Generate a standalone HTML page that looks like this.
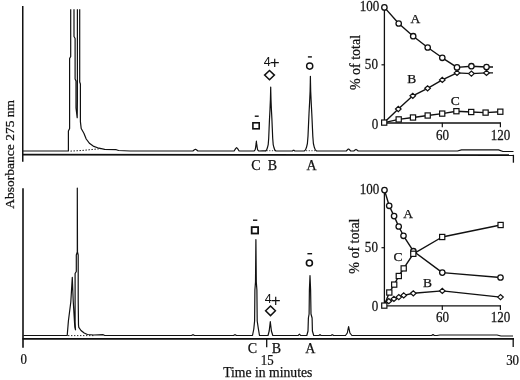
<!DOCTYPE html>
<html><head><meta charset="utf-8"><title>Figure</title>
<style>
html,body{margin:0;padding:0;background:#fff;}
svg{display:block;}
.s{font-family:"Liberation Serif","Times New Roman",serif;fill:#111;stroke:#111;stroke-width:0.25;}
.h{font-family:"Liberation Sans",Arial,sans-serif;fill:#111;}
</style></head><body>
<svg width="520" height="380" viewBox="0 0 520 380">
<rect x="0" y="0" width="520" height="380" fill="#fff"/>
<line x1="22.75" y1="6" x2="22.75" y2="161.7" stroke="#111" stroke-width="1.5" />
<line x1="22" y1="154.6" x2="514" y2="155.1" stroke="#111" stroke-width="1.8" />
<line x1="513.4" y1="154.8" x2="513.4" y2="162.7" stroke="#111" stroke-width="1.3" />
<line x1="23.0" y1="188.2" x2="23.0" y2="347.7" stroke="#111" stroke-width="1.6" />
<line x1="22.5" y1="338.9" x2="514" y2="338.9" stroke="#111" stroke-width="1.9" />
<line x1="513.2" y1="338.9" x2="513.2" y2="347" stroke="#111" stroke-width="1.3" />
<line x1="266.7" y1="338.9" x2="266.7" y2="347.3" stroke="#111" stroke-width="1.3" />
<polyline points="23.0,151.0 68.4,151.0 68.4,131.0 69.6,128.5 69.6,58.5 70.7,56.5 70.7,9.3" fill="none" stroke="#111" stroke-width="1.2" stroke-linejoin="round" />
<polyline points="74.0,9.3 74.0,36.5 75.1,38.5 75.1,79.0 76.0,81.0 76.0,108.0 77.2,117.7 77.4,100.0 77.4,9.3" fill="none" stroke="#111" stroke-width="1.2" stroke-linejoin="round" />
<polyline points="79.7,9.3 79.7,82.0 80.4,84.0 80.4,121.6 81.2,128.5 83.9,133.2 86.2,139.0 89.7,143.6 93.2,146.1 98.9,148.2 104.7,149.4 116.3,149.7 118.6,150.5 130.0,151.0 192.9,151.0 194.4,149.8 195.4,149.3 196.4,149.8 197.9,151.0 234.1,151.0 235.6,148.7 236.6,147.7 237.6,148.7 239.1,151.0 253.6,151.0 254.2,150.9 254.6,150.5 255.0,150.0 255.3,149.0 255.6,147.6 255.8,146.1 256.0,144.6 256.2,143.2 256.3,142.0 256.4,141.2 256.5,142.0 256.5,143.2 256.8,144.6 257.0,146.1 257.2,147.6 257.5,149.0 257.8,150.0 258.1,150.5 258.6,150.9 259.1,151.0 266.0,150.7 265.5,151.0 266.6,150.0 267.4,147.8 268.2,144.6 268.7,138.2 269.1,128.6 269.5,119.0 270.0,109.4 270.4,99.8 270.6,92.1 270.7,87.0 270.8,92.1 271.0,99.8 271.4,109.4 271.9,119.0 272.3,128.6 272.7,138.2 273.2,144.6 274.0,147.8 274.8,150.0 275.9,151.0 292.4,151.0 293.1,150.4 293.6,150.2 294.1,150.4 294.8,151.0 304.2,151.0 305.5,149.9 306.5,147.3 307.4,143.5 308.0,136.1 308.5,124.9 309.0,113.7 309.6,102.4 310.1,91.2 310.3,82.3 310.4,76.3 310.5,82.3 310.7,91.2 311.2,102.4 311.8,113.7 312.3,124.9 312.8,136.1 313.4,143.5 314.3,147.3 315.3,149.9 316.6,151.0 346.3,151.0 347.6,149.6 348.5,149.0 349.4,149.6 350.7,151.0 353.8,151.0 355.1,149.9 356.0,149.4 356.9,149.9 358.2,151.0 457.5,151.0 461.5,149.9 498.5,149.9 503.0,151.5 513.5,151.5" fill="none" stroke="#111" stroke-width="1.2" stroke-linejoin="round" />
<polyline points="23.5,335.5 67.2,335.5 68.4,321.0 70.8,302.0 72.3,277.4 73.2,300.5 74.8,327.0 75.5,329.8 75.1,322.0 75.1,273.5 76.3,271.5 76.3,255.0 77.3,252.0 77.3,188.0 77.5,252.0 78.2,255.0 78.2,300.0 78.5,325.0 78.8,327.4 81.0,330.5 84.2,333.0 87.4,334.5 93.7,335.0 103.2,334.7 104.8,335.5 191.5,335.5 192.4,334.9 193.0,334.7 193.6,334.9 194.5,335.5 233.5,335.5 234.4,334.9 235.0,334.7 235.6,334.9 236.5,335.5 252.5,335.5 253.8,329.0 254.6,321.0 254.9,290.0 255.5,282.0 255.9,239.5 256.3,282.0 256.9,290.0 257.2,321.0 258.4,329.0 259.5,335.5 268.0,335.5 269.2,331.0 270.3,321.7 271.4,331.0 272.8,335.5 298.2,335.5 298.9,334.6 299.4,334.2 299.9,334.6 300.6,335.5 306.8,335.5 308.0,331.0 308.4,318.0 309.1,314.0 309.4,290.0 310.0,275.5 310.6,290.0 311.0,314.0 312.1,318.0 312.4,331.0 313.7,335.5 319.0,335.5 319.6,334.9 320.0,334.7 320.4,334.9 321.0,335.5 331.1,335.5 331.8,334.9 332.3,334.7 332.8,334.9 333.5,335.5 345.5,335.5 347.3,333.0 348.6,326.5 349.9,333.0 351.9,335.5 431.5,335.5 432.4,334.9 433.0,334.6 433.6,334.9 434.5,335.5 437.0,335.5 440.0,335.0 497.0,335.0 501.0,336.0 513.0,336.0" fill="none" stroke="#111" stroke-width="1.2" stroke-linejoin="round" />
<polyline points="70.5,151.1 81.6,150.5 93.2,149.4 101.3,148.6" fill="none" stroke="#111" stroke-width="1.0" stroke-linejoin="round" stroke-dasharray="1.4 1.6"/>
<polyline points="266.5,150.7 275.0,150.7" fill="none" stroke="#111" stroke-width="0.8" stroke-linejoin="round" stroke-dasharray="1.2 1.5"/>
<polyline points="306.0,150.7 315.0,150.7" fill="none" stroke="#111" stroke-width="0.8" stroke-linejoin="round" stroke-dasharray="1.2 1.5"/>
<polyline points="68.0,335.6 95.0,335.6" fill="none" stroke="#111" stroke-width="0.9" stroke-linejoin="round" stroke-dasharray="1.4 1.6"/>
<rect x="252.9" y="122.8" width="6.3" height="6.0" fill="none" stroke="#111" stroke-width="1.6"/>
<line x1="254.8" y1="116.2" x2="258.7" y2="116.2" stroke="#111" stroke-width="1.4" />
<polygon points="264.6,75.1 269.5,70.5 274.4,75.1 269.5,79.7" fill="none" stroke="#111" stroke-width="1.5"/>
<circle cx="309.7" cy="66.1" r="3.1" fill="none" stroke="#111" stroke-width="1.4"/>
<line x1="307.9" y1="56.9" x2="311.9" y2="56.9" stroke="#111" stroke-width="1.4" />
<text class="h" x="263.8" y="65.6" text-anchor="start" font-size="12.5" >4</text>
<text class="h" x="269.7" y="67.8" text-anchor="start" font-size="17" >+</text>
<rect x="251.7" y="227.1" width="6.4" height="6.4" fill="none" stroke="#111" stroke-width="1.8"/>
<line x1="253.0" y1="220.2" x2="257.3" y2="220.2" stroke="#111" stroke-width="1.4" />
<polygon points="265.6,310.8 270.5,306.0 275.4,310.8 270.5,315.6" fill="none" stroke="#111" stroke-width="1.5"/>
<circle cx="309.4" cy="263" r="3.0" fill="none" stroke="#111" stroke-width="1.6"/>
<line x1="307.4" y1="253.7" x2="312.1" y2="253.7" stroke="#111" stroke-width="1.4" />
<text class="h" x="264.8" y="303.4" text-anchor="start" font-size="12.5" >4</text>
<text class="h" x="270.7" y="305.6" text-anchor="start" font-size="17" >+</text>
<text class="s" x="255.8" y="169.6" text-anchor="middle" font-size="14" >C</text>
<text class="s" x="272.5" y="169.6" text-anchor="middle" font-size="14" >B</text>
<text class="s" x="311.6" y="169.6" text-anchor="middle" font-size="14" >A</text>
<text class="s" x="252.5" y="353.1" text-anchor="middle" font-size="14" >C</text>
<text class="s" x="276.4" y="353.1" text-anchor="middle" font-size="14" >B</text>
<text class="s" x="310.4" y="353.1" text-anchor="middle" font-size="14" >A</text>
<text class="s" transform="translate(23.6,363.8) scale(0.9,1)" text-anchor="middle" font-size="14.3" >0</text>
<text class="s" transform="translate(267.2,364.5) scale(0.9,1)" text-anchor="middle" font-size="14.3" >15</text>
<text class="s" transform="translate(512.6,364.8) scale(0.9,1)" text-anchor="middle" font-size="14.3" >30</text>
<text class="s" x="267.8" y="377.3" text-anchor="middle" font-size="13.7" >Time in minutes</text>
<text class="s" font-size="13.5" text-anchor="middle" transform="translate(14.0,154.3) rotate(-90)">Absorbance 275 nm</text>
<line x1="384.4" y1="7.4" x2="384.4" y2="122.7" stroke="#111" stroke-width="1.3" />
<line x1="381.5" y1="7.4" x2="384.4" y2="7.4" stroke="#111" stroke-width="1.2" />
<line x1="381.5" y1="64.8" x2="384.4" y2="64.8" stroke="#111" stroke-width="1.2" />
<line x1="383.79999999999995" y1="123.0" x2="501.0" y2="123.0" stroke="#111" stroke-width="1.3" />
<line x1="442.3" y1="122.7" x2="442.3" y2="127.2" stroke="#111" stroke-width="1.2" />
<line x1="500.4" y1="122.7" x2="500.4" y2="127.2" stroke="#111" stroke-width="1.2" />
<text class="s" transform="translate(379.3,11.4) scale(0.87,1)" text-anchor="end" font-size="15" >100</text>
<text class="s" transform="translate(377.9,69.0) scale(0.87,1)" text-anchor="end" font-size="15" >50</text>
<text class="s" transform="translate(378.4,128.5) scale(0.87,1)" text-anchor="end" font-size="15" >0</text>
<text class="s" transform="translate(442.4,139.5) scale(0.87,1)" text-anchor="middle" font-size="15" >60</text>
<text class="s" transform="translate(500.6,139.5) scale(0.87,1)" text-anchor="middle" font-size="15" >120</text>
<text class="s" font-size="14" text-anchor="middle" transform="translate(360.3,62.5) rotate(-90)">% of total</text>
<line x1="384.4" y1="190.1" x2="384.4" y2="305.6" stroke="#111" stroke-width="1.3" />
<line x1="381.5" y1="190.1" x2="384.4" y2="190.1" stroke="#111" stroke-width="1.2" />
<line x1="381.5" y1="247.7" x2="384.4" y2="247.7" stroke="#111" stroke-width="1.2" />
<line x1="383.79999999999995" y1="305.90000000000003" x2="501.0" y2="305.90000000000003" stroke="#111" stroke-width="1.3" />
<line x1="442.3" y1="305.6" x2="442.3" y2="310.1" stroke="#111" stroke-width="1.2" />
<line x1="500.4" y1="305.6" x2="500.4" y2="310.1" stroke="#111" stroke-width="1.2" />
<text class="s" transform="translate(379.3,194.1) scale(0.87,1)" text-anchor="end" font-size="15" >100</text>
<text class="s" transform="translate(377.9,251.89999999999998) scale(0.87,1)" text-anchor="end" font-size="15" >50</text>
<text class="s" transform="translate(378.4,311.40000000000003) scale(0.87,1)" text-anchor="end" font-size="15" >0</text>
<text class="s" transform="translate(442.4,322.40000000000003) scale(0.87,1)" text-anchor="middle" font-size="15" >60</text>
<text class="s" transform="translate(500.6,322.40000000000003) scale(0.87,1)" text-anchor="middle" font-size="15" >120</text>
<text class="s" font-size="14" text-anchor="middle" transform="translate(359.2,246.1) rotate(-90)">% of total</text>
<polyline points="384.4,7.4 398.7,23.5 413.2,36.2 427.7,47.5 442.3,57.8 457.0,67.4 471.4,66.2 486.5,67.0 493.0,67.0" fill="none" stroke="#111" stroke-width="1.4" stroke-linejoin="round" />
<polyline points="384.2,122.6 398.3,109.0 412.8,95.8 427.6,88.3 442.3,79.9 457.0,72.9 471.4,73.6 486.5,72.9 493.0,72.9" fill="none" stroke="#111" stroke-width="1.4" stroke-linejoin="round" />
<polyline points="384.2,122.6 398.7,119.4 413.0,117.5 427.7,115.5 442.2,113.6 456.4,111.2 471.2,112.0 485.6,112.6 500.3,111.7" fill="none" stroke="#111" stroke-width="1.4" stroke-linejoin="round" />
<circle cx="384.4" cy="7.4" r="2.7" fill="#fff" stroke="#111" stroke-width="1.3"/>
<circle cx="398.7" cy="23.5" r="2.7" fill="#fff" stroke="#111" stroke-width="1.3"/>
<circle cx="413.2" cy="36.2" r="2.7" fill="#fff" stroke="#111" stroke-width="1.3"/>
<circle cx="427.7" cy="47.5" r="2.7" fill="#fff" stroke="#111" stroke-width="1.3"/>
<circle cx="442.3" cy="57.8" r="2.7" fill="#fff" stroke="#111" stroke-width="1.3"/>
<circle cx="457.0" cy="67.4" r="2.7" fill="#fff" stroke="#111" stroke-width="1.3"/>
<circle cx="471.4" cy="66.2" r="2.7" fill="#fff" stroke="#111" stroke-width="1.3"/>
<circle cx="486.5" cy="67.0" r="2.7" fill="#fff" stroke="#111" stroke-width="1.3"/>
<polygon points="395.5,109.0 398.3,106.4 401.1,109.0 398.3,111.6" fill="#fff" stroke="#111" stroke-width="1.2"/>
<polygon points="410.0,95.8 412.8,93.2 415.6,95.8 412.8,98.4" fill="#fff" stroke="#111" stroke-width="1.2"/>
<polygon points="424.8,88.3 427.6,85.7 430.4,88.3 427.6,90.9" fill="#fff" stroke="#111" stroke-width="1.2"/>
<polygon points="439.5,79.9 442.3,77.3 445.1,79.9 442.3,82.5" fill="#fff" stroke="#111" stroke-width="1.2"/>
<polygon points="454.2,72.9 457.0,70.3 459.8,72.9 457.0,75.5" fill="#fff" stroke="#111" stroke-width="1.2"/>
<polygon points="468.6,73.6 471.4,71.0 474.2,73.6 471.4,76.2" fill="#fff" stroke="#111" stroke-width="1.2"/>
<polygon points="483.7,72.9 486.5,70.3 489.3,72.9 486.5,75.5" fill="#fff" stroke="#111" stroke-width="1.2"/>
<rect x="381.6" y="120.0" width="5.2" height="5.2" fill="#fff" stroke="#111" stroke-width="1.2"/>
<rect x="396.1" y="116.8" width="5.2" height="5.2" fill="#fff" stroke="#111" stroke-width="1.2"/>
<rect x="410.4" y="114.9" width="5.2" height="5.2" fill="#fff" stroke="#111" stroke-width="1.2"/>
<rect x="425.1" y="112.9" width="5.2" height="5.2" fill="#fff" stroke="#111" stroke-width="1.2"/>
<rect x="439.6" y="111.0" width="5.2" height="5.2" fill="#fff" stroke="#111" stroke-width="1.2"/>
<rect x="453.8" y="108.6" width="5.2" height="5.2" fill="#fff" stroke="#111" stroke-width="1.2"/>
<rect x="468.6" y="109.4" width="5.2" height="5.2" fill="#fff" stroke="#111" stroke-width="1.2"/>
<rect x="483.0" y="110.0" width="5.2" height="5.2" fill="#fff" stroke="#111" stroke-width="1.2"/>
<rect x="497.7" y="109.1" width="5.2" height="5.2" fill="#fff" stroke="#111" stroke-width="1.2"/>
<text class="s" x="415.3" y="22.6" text-anchor="middle" font-size="13.5" >A</text>
<text class="s" x="411.8" y="82.9" text-anchor="middle" font-size="13.5" >B</text>
<text class="s" x="455.3" y="104.5" text-anchor="middle" font-size="13.5" >C</text>
<polyline points="384.5,190.1 389.2,205.8 394.1,216.1 398.7,226.5 403.5,235.8 413.4,251.2 442.3,272.6 500.5,277.5" fill="none" stroke="#111" stroke-width="1.4" stroke-linejoin="round" />
<polyline points="384.3,305.6 388.8,301.2 393.9,298.9 398.8,297.1 403.7,295.4 413.3,293.3 442.3,290.9 500.5,297.1" fill="none" stroke="#111" stroke-width="1.4" stroke-linejoin="round" />
<polyline points="384.3,305.6 389.3,292.5 394.2,284.6 398.8,276.0 403.7,268.4 413.3,253.8 442.2,237.0 500.6,225.0" fill="none" stroke="#111" stroke-width="1.4" stroke-linejoin="round" />
<circle cx="384.5" cy="190.1" r="2.7" fill="#fff" stroke="#111" stroke-width="1.3"/>
<circle cx="389.2" cy="205.8" r="2.7" fill="#fff" stroke="#111" stroke-width="1.3"/>
<circle cx="394.1" cy="216.1" r="2.7" fill="#fff" stroke="#111" stroke-width="1.3"/>
<circle cx="398.7" cy="226.5" r="2.7" fill="#fff" stroke="#111" stroke-width="1.3"/>
<circle cx="403.5" cy="235.8" r="2.7" fill="#fff" stroke="#111" stroke-width="1.3"/>
<circle cx="413.4" cy="251.2" r="2.7" fill="#fff" stroke="#111" stroke-width="1.3"/>
<circle cx="442.3" cy="272.6" r="2.7" fill="#fff" stroke="#111" stroke-width="1.3"/>
<circle cx="500.5" cy="277.5" r="2.7" fill="#fff" stroke="#111" stroke-width="1.3"/>
<polygon points="386.0,301.2 388.8,298.6 391.6,301.2 388.8,303.8" fill="#fff" stroke="#111" stroke-width="1.2"/>
<polygon points="391.1,298.9 393.9,296.3 396.7,298.9 393.9,301.5" fill="#fff" stroke="#111" stroke-width="1.2"/>
<polygon points="396.0,297.1 398.8,294.5 401.6,297.1 398.8,299.7" fill="#fff" stroke="#111" stroke-width="1.2"/>
<polygon points="400.9,295.4 403.7,292.8 406.5,295.4 403.7,298.0" fill="#fff" stroke="#111" stroke-width="1.2"/>
<polygon points="410.5,293.3 413.3,290.7 416.1,293.3 413.3,295.9" fill="#fff" stroke="#111" stroke-width="1.2"/>
<polygon points="439.5,290.9 442.3,288.3 445.1,290.9 442.3,293.5" fill="#fff" stroke="#111" stroke-width="1.2"/>
<polygon points="497.7,297.1 500.5,294.5 503.3,297.1 500.5,299.7" fill="#fff" stroke="#111" stroke-width="1.2"/>
<rect x="381.7" y="303.0" width="5.2" height="5.2" fill="#fff" stroke="#111" stroke-width="1.2"/>
<rect x="386.7" y="289.9" width="5.2" height="5.2" fill="#fff" stroke="#111" stroke-width="1.2"/>
<rect x="391.6" y="282.0" width="5.2" height="5.2" fill="#fff" stroke="#111" stroke-width="1.2"/>
<rect x="396.2" y="273.4" width="5.2" height="5.2" fill="#fff" stroke="#111" stroke-width="1.2"/>
<rect x="401.1" y="265.8" width="5.2" height="5.2" fill="#fff" stroke="#111" stroke-width="1.2"/>
<rect x="410.7" y="251.2" width="5.2" height="5.2" fill="#fff" stroke="#111" stroke-width="1.2"/>
<rect x="439.6" y="234.4" width="5.2" height="5.2" fill="#fff" stroke="#111" stroke-width="1.2"/>
<rect x="498.0" y="222.4" width="5.2" height="5.2" fill="#fff" stroke="#111" stroke-width="1.2"/>
<text class="s" x="408.2" y="217.7" text-anchor="middle" font-size="13.5" >A</text>
<text class="s" x="398.0" y="261.4" text-anchor="middle" font-size="13.5" >C</text>
<text class="s" x="427.4" y="287.2" text-anchor="middle" font-size="13.5" >B</text>
</svg>
</body></html>
